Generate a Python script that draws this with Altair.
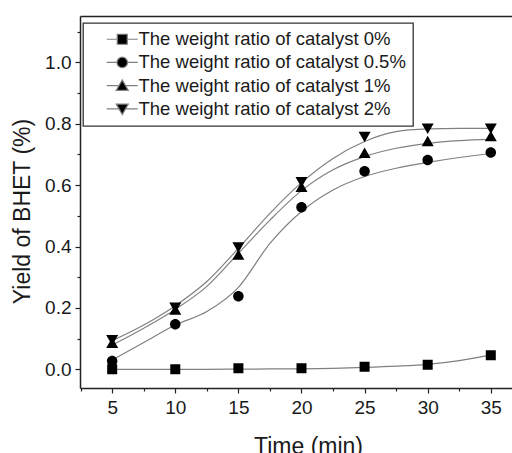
import altair as alt
import pandas as pd

# ---- data ----
series = [
    "The weight ratio of catalyst 0%",
    "The weight ratio of catalyst 0.5%",
    "The weight ratio of catalyst 1%",
    "The weight ratio of catalyst 2%",
]
time = [5, 10, 15, 20, 25, 30, 35]
yield_0 = [0.0, 0.0, 0.003, 0.003, 0.008, 0.015, 0.046]
yield_05 = [0.027, 0.147, 0.238, 0.528, 0.645, 0.682, 0.706]
yield_1 = [0.085, 0.193, 0.372, 0.593, 0.704, 0.742, 0.758]
yield_2 = [0.096, 0.202, 0.398, 0.611, 0.758, 0.785, 0.785]

# fitted curves (grey lines)
fit_time = [5, 7.5, 10, 12.5, 15, 17.5, 20, 22.5, 25, 27.5, 30, 32.5, 35]
fit_0 = [0.0, 0.0, 0.0, 0.0, 0.0005, 0.001, 0.0015, 0.003, 0.006, 0.01, 0.016, 0.028, 0.046]
fit_05 = [0.03, 0.087, 0.144, 0.188, 0.267, 0.41, 0.514, 0.584, 0.628, 0.655, 0.674, 0.69, 0.703]
fit_1 = [0.079, 0.134, 0.195, 0.27, 0.378, 0.486, 0.582, 0.65, 0.693, 0.72, 0.736, 0.745, 0.749]
fit_2 = [0.093, 0.144, 0.207, 0.286, 0.394, 0.508, 0.608, 0.687, 0.742, 0.774, 0.783, 0.785, 0.785]

x_ticks = [5, 10, 15, 20, 25, 30, 35]
x_minor = [2.5, 7.5, 12.5, 17.5, 22.5, 27.5, 32.5]
y_ticks = [0.0, 0.2, 0.4, 0.6, 0.8, 1.0]
y_minor = [0.1, 0.3, 0.5, 0.7, 0.9, 1.1]

pts = pd.DataFrame(
    [(t, v, s) for s, vals in zip(series, [yield_0, yield_05, yield_1, yield_2]) for t, v in zip(time, vals)],
    columns=["time", "yield", "series"],
)
fits = pd.DataFrame(
    [(t, v, s) for s, vals in zip(series, [fit_0, fit_05, fit_1, fit_2]) for t, v in zip(fit_time, vals)],
    columns=["time", "yield", "series"],
)

FONT = "Liberation Sans"
TXT = "#1a1a1a"
xs = alt.Scale(domain=[2.45, 36.68], nice=False, zero=False)
ys = alt.Scale(domain=[-0.061, 1.151], nice=False, zero=False)

# marker + short line segments (zero-area segments: invisible on unstroked chart points,
# stroked in the legend by the curve colour)
shapes = [
    "M-3.1,0H-1M1,0H3.1M-1,-1H1V1H-1Z",
    "M-3.1,0H-1.05M1.05,0H3.1M-1.05,0A1.05,1.05,0,1,1,1.05,0A1.05,1.05,0,1,1,-1.05,0Z",
    "M-3.1,0H-0.6M0.6,0H3.1M0,-1.15L1.2,0.95L-1.2,0.95Z",
    "M-3.1,0H-0.6M0.6,0H3.1M0,1.15L1.2,-0.95L-1.2,-0.95Z",
]

LEG = dict(
    title=None, orient="none", legendX=3, legendY=7,
    padding=7, rowPadding=4.2, symbolSize=100, symbolOffset=23,
    symbolFillColor="black", symbolStrokeWidth=1.2, symbolOpacity=1,
    strokeColor="#333", fillColor="white",
    labelFontSize=18.5, labelFont=FONT, labelColor=TXT, labelOffset=7, labelLimit=400,
)

x_axis = alt.Axis(
    values=x_ticks, format="d", tickSize=5, tickWidth=1.2, labelPadding=5,
    title="Time (min)", titleX=228, titleY=65, titleBaseline="alphabetic",
    titleAlign="center", titleFontSize=23, titleFontWeight="normal",
    grid=False, orient="bottom",
)
y_axis = alt.Axis(
    values=y_ticks, format=".1f", tickSize=5, tickWidth=1.2, labelPadding=4,
    title="Yield of BHET (%)", titleX=-58, titleY=195, titleBaseline="middle",
    titleAlign="center", titleAngle=270, titleFontSize=23, titleFontWeight="normal",
    grid=False, orient="left",
)

curves = alt.Chart(fits).mark_line(strokeWidth=1.2, interpolate="monotone").encode(
    x=alt.X("time:Q", scale=xs, axis=x_axis),
    y=alt.Y("yield:Q", scale=ys, axis=y_axis),
    color=alt.Color(
        "series:N",
        scale=alt.Scale(domain=series, range=["#808080"] * 4),
        legend=alt.Legend(**LEG),
    ),
)

points = alt.Chart(pts).mark_point(filled=True, opacity=1, color="black", size=100).encode(
    x=alt.X("time:Q", scale=xs, axis=None),
    y=alt.Y("yield:Q", scale=ys, axis=None),
    shape=alt.Shape(
        "series:N",
        scale=alt.Scale(domain=series, range=shapes),
        legend=alt.Legend(**LEG),
    ),
)

minor_x = alt.Chart(pd.DataFrame({"t": x_minor})).mark_rule(opacity=0).encode(
    x=alt.X("t:Q", scale=xs, axis=alt.Axis(orient="bottom", values=x_minor, labels=False, tickSize=3,
                                          tickWidth=1.2, domain=False, grid=False, title=None)),
)
minor_y = alt.Chart(pd.DataFrame({"v": y_minor})).mark_rule(opacity=0).encode(
    y=alt.Y("v:Q", scale=ys, axis=alt.Axis(orient="left", values=y_minor, labels=False, tickSize=3,
                                          tickWidth=1.2, domain=False, grid=False, title=None)),
)
top_line = alt.Chart(pd.DataFrame({"t": [5]})).mark_rule(opacity=0).encode(
    x=alt.X("t:Q", scale=xs, axis=alt.Axis(orient="top", labels=False, ticks=False, domain=True,
                                          grid=False, title=None)),
)

chart = alt.layer(curves, points, minor_x, minor_y, top_line).resolve_axis(
    x="independent", y="independent"
).properties(
    width=432, height=372,
    padding={"left": 80, "top": 16, "right": 0, "bottom": 65},
    autosize=alt.AutoSizeParams(type="none"),
    background="white",
).configure_view(stroke=None).configure_axis(
    labelFont=FONT, titleFont=FONT, labelFontSize=19, labelColor=TXT, titleColor=TXT,
    domainColor="#222", domainWidth=1.5, tickColor="#222",
).configure_legend(strokeWidth=1.3)

chart.save("out.html", embed_options={"renderer": "svg", "actions": False})
